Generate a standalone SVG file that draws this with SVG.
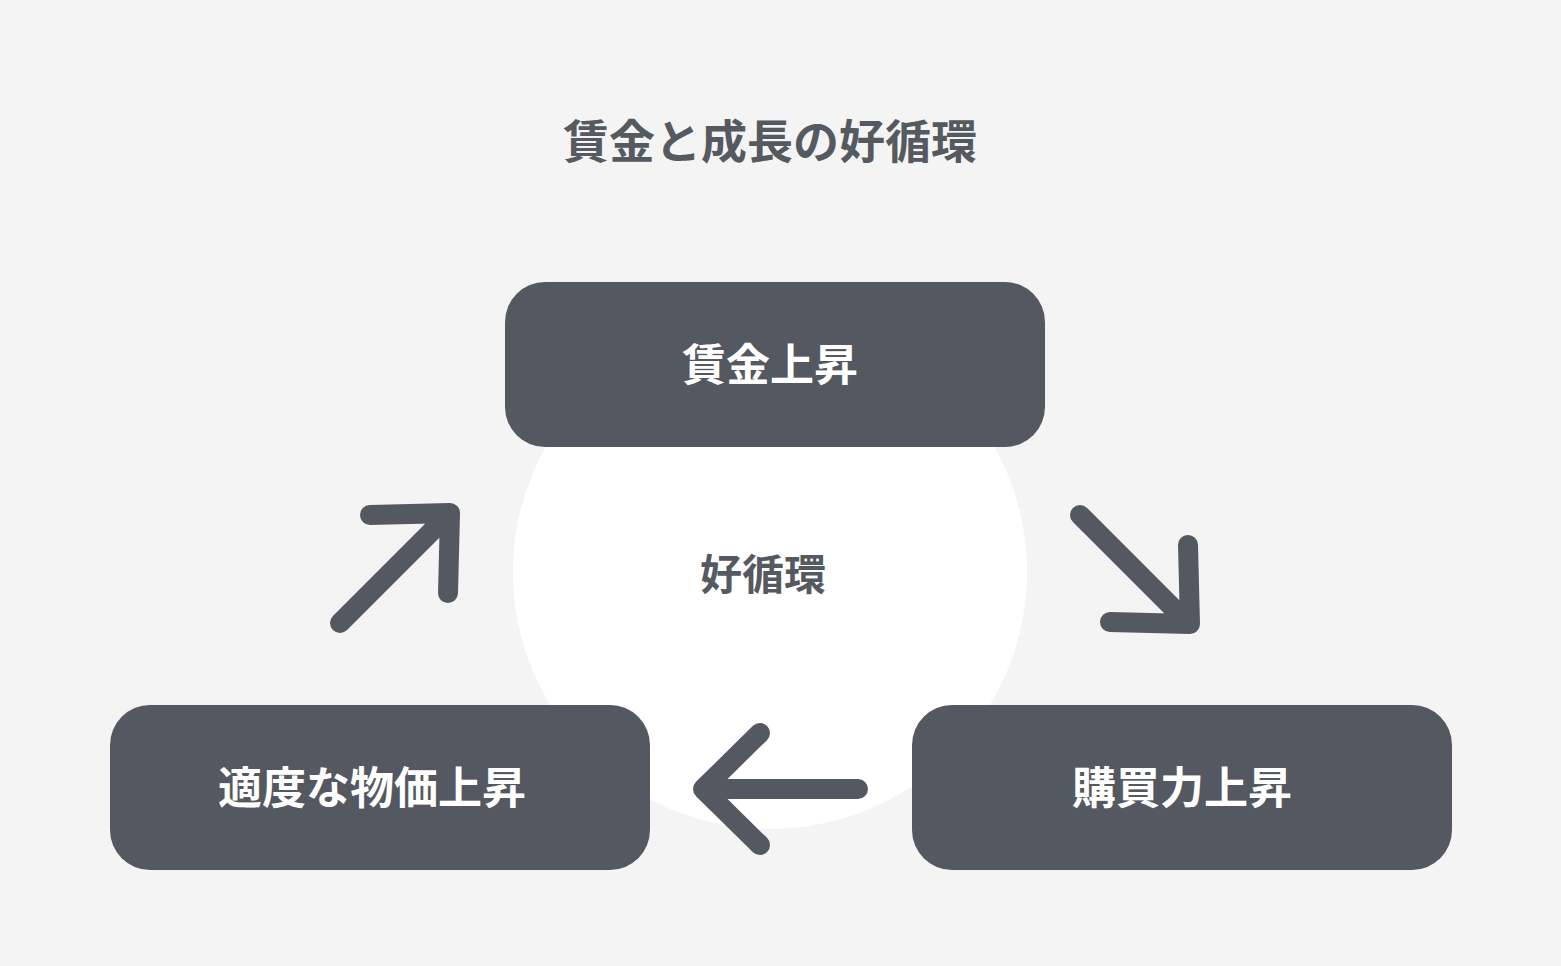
<svg xmlns="http://www.w3.org/2000/svg" width="1561" height="966" viewBox="0 0 1561 966">
<style>
.node{fill:#545860}
.nt{fill:#fff;font-family:"Noto Sans CJK JP",sans-serif;font-weight:700;font-size:44px;text-anchor:middle}
.ar{fill:none;stroke:#545860;stroke-width:20;stroke-linecap:round;stroke-linejoin:round}
</style>
<rect width="1561" height="966" fill="#f4f4f4"/>
<text x="770" y="158" font-family="Noto Sans CJK JP,sans-serif" font-weight="700" font-size="46" fill="#555a61" text-anchor="middle">賃金と成長の好循環</text>
<circle cx="770" cy="572" r="257" fill="#fff"/>
<text x="763" y="590" font-family="Noto Sans CJK JP,sans-serif" font-weight="700" font-size="42" fill="#555a61" text-anchor="middle">好循環</text>
<g id="connectors">
<path class="ar" d="M1080 515 L1186 621 M1110 622 L1190 624 L1188 545"/>
<path class="ar" d="M858 789 L706 789 M760 733 L703 789 L760 845"/>
<path class="ar" d="M340 623 L446 517 M370 515 L450 513 L448 593"/>
</g>
<g id="n1"><rect class="node" x="505" y="282" width="540" height="165" rx="40"/><text class="nt" x="770" y="381">賃金上昇</text></g>
<g id="n2"><rect class="node" x="912" y="705" width="540" height="165" rx="40"/><text class="nt" x="1182" y="804">購買力上昇</text></g>
<g id="n3"><rect class="node" x="110" y="705" width="540" height="165" rx="40"/><text class="nt" x="372" y="804">適度な物価上昇</text></g>
</svg>
